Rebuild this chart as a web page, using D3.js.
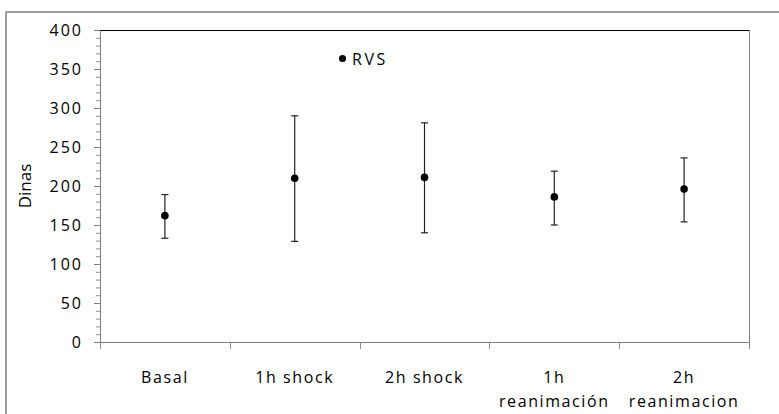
<!DOCTYPE html>
<html>
<head>
<meta charset="utf-8">
<script src="https://cdn.jsdelivr.net/npm/d3@7"></script>
<style>
  body { margin: 0; background: #fff; }
  text { font-family: "Open Sans", "Noto Sans", sans-serif; fill: #000; }
</style>
</head>
<body>
<div id="chart"></div>
<script>
// data
var categories = ["Basal", "1h shock", "2h shock", "1h reanimación", "2h reanimacion"];
var labelLines = [["Basal"], ["1h shock"], ["2h shock"], ["1h", "reanimación"], ["2h", "reanimacion"]];
var rvs = [162, 210, 211, 186, 196];
var rvsHigh = [189, 290, 281, 219, 236];
var rvsLow = [133, 129, 140, 150, 154];
var yTicks = [0, 50, 100, 150, 200, 250, 300, 350, 400];

var svgWidth = 779;
var svgHeight = 414;
var margin = { top: 30, right: 30, bottom: 72, left: 100 };
var width = svgWidth - margin.left - margin.right;
var height = svgHeight - margin.top - margin.bottom;

var svg = d3.select("#chart")
  .append("svg")
  .attr("width", svgWidth)
  .attr("height", svgHeight)
  .style("display", "block");

// outer chart frame (runs off the right and bottom edges)
svg.append("rect")
  .attr("x", 6).attr("y", 12)
  .attr("width", 800).attr("height", 430)
  .attr("fill", "none")
  .attr("stroke", "#7f7f7f")
  .attr("stroke-width", 1.5);

var chartGroup = svg.append("g")
  .attr("transform", `translate(${margin.left}, ${margin.top})`);

var x = d3.scaleBand().domain(categories).range([0, width]);
var y = d3.scaleLinear().domain([0, 400]).range([height, 0]);

// plot area border
chartGroup.append("line")
  .attr("x1", 0).attr("x2", width).attr("y1", 0.5).attr("y2", 0.5)
  .attr("stroke", "#000");
chartGroup.append("line")
  .attr("x1", width + 0.5).attr("x2", width + 0.5).attr("y1", 0).attr("y2", height)
  .attr("stroke", "#808080");

// y axis with minor ticks
var minor = d3.range(0, 401, 10).filter(v => v % 50 !== 0);
chartGroup.append("g")
  .attr("class", "minor")
  .call(d3.axisLeft(y).tickValues(minor).tickSize(4).tickFormat(""))
  .call(g => g.select(".domain").remove())
  .call(g => g.selectAll("line").attr("stroke", "#909090"));

var yAxis = chartGroup.append("g")
  .call(d3.axisLeft(y).tickValues(yTicks).tickSize(6).tickPadding(11).tickSizeOuter(0));
yAxis.select(".domain").attr("stroke", "#808080");
yAxis.selectAll("line").attr("stroke", "#808080");
yAxis.selectAll("text")
  .style("font-size", "16px")
  .style("font-family", "Open Sans, sans-serif")
  .attr("letter-spacing", "2px")
  .attr("fill", "#000");

// x axis: ticks between categories
var xAxis = chartGroup.append("g")
  .attr("transform", `translate(0, ${height})`)
  .call(d3.axisBottom(x).tickSize(0).tickFormat(""));
xAxis.select(".domain").attr("stroke", "#808080").attr("d", `M0,0.5H${width}`);
var bounds = categories.map(c => x(c)).concat([width]);
xAxis.selectAll(".sep")
  .data(bounds)
  .enter()
  .append("line")
  .attr("x1", d => Math.round(d) + 0.5)
  .attr("x2", d => Math.round(d) + 0.5)
  .attr("y1", 0).attr("y2", 7)
  .attr("stroke", "#909090");

// category labels
var labels = chartGroup.selectAll(".xlabel")
  .data(categories)
  .enter()
  .append("text")
  .attr("class", "xlabel")
  .attr("text-anchor", "middle")
  .style("font-size", "16px")
  .attr("letter-spacing", "1.6px")
  .attr("transform", d => `translate(${x(d) + x.bandwidth() / 2}, ${height + 41})`);
labels.selectAll("tspan")
  .data((d, i) => labelLines[i])
  .enter()
  .append("tspan")
  .attr("x", 0)
  .attr("dy", (d, i) => i === 0 ? 0 : 24)
  .text(d => d);

// error bars
var bars = chartGroup.selectAll(".err")
  .data(categories)
  .enter()
  .append("g")
  .attr("class", "err")
  .attr("stroke", "#222")
  .attr("stroke-width", 1.2);
bars.append("line")
  .attr("x1", d => x(d) + x.bandwidth() / 2)
  .attr("x2", d => x(d) + x.bandwidth() / 2)
  .attr("y1", (d, i) => y(rvsHigh[i]))
  .attr("y2", (d, i) => y(rvsLow[i]));
bars.append("line")
  .attr("x1", d => x(d) + x.bandwidth() / 2 - 3.5)
  .attr("x2", d => x(d) + x.bandwidth() / 2 + 3.5)
  .attr("y1", (d, i) => y(rvsHigh[i]))
  .attr("y2", (d, i) => y(rvsHigh[i]));
bars.append("line")
  .attr("x1", d => x(d) + x.bandwidth() / 2 - 3.5)
  .attr("x2", d => x(d) + x.bandwidth() / 2 + 3.5)
  .attr("y1", (d, i) => y(rvsLow[i]))
  .attr("y2", (d, i) => y(rvsLow[i]));

// points
chartGroup.selectAll(".pt")
  .data(categories)
  .enter()
  .append("circle")
  .attr("class", "pt")
  .attr("cx", d => x(d) + x.bandwidth() / 2)
  .attr("cy", (d, i) => y(rvs[i]))
  .attr("r", 3.8)
  .attr("fill", "#000");

// legend
svg.append("circle")
  .attr("cx", 342.5).attr("cy", 58.5)
  .attr("r", 3.5)
  .attr("fill", "#000");
svg.append("text")
  .attr("x", 352).attr("y", 65)
  .style("font-size", "16px")
  .attr("letter-spacing", "2.5px")
  .text("RVS");

// y axis title
svg.append("text")
  .attr("transform", "translate(31, 186) rotate(-90)")
  .attr("text-anchor", "middle")
  .style("font-size", "17px")
  .text("Dinas");
</script>
</body>
</html>
